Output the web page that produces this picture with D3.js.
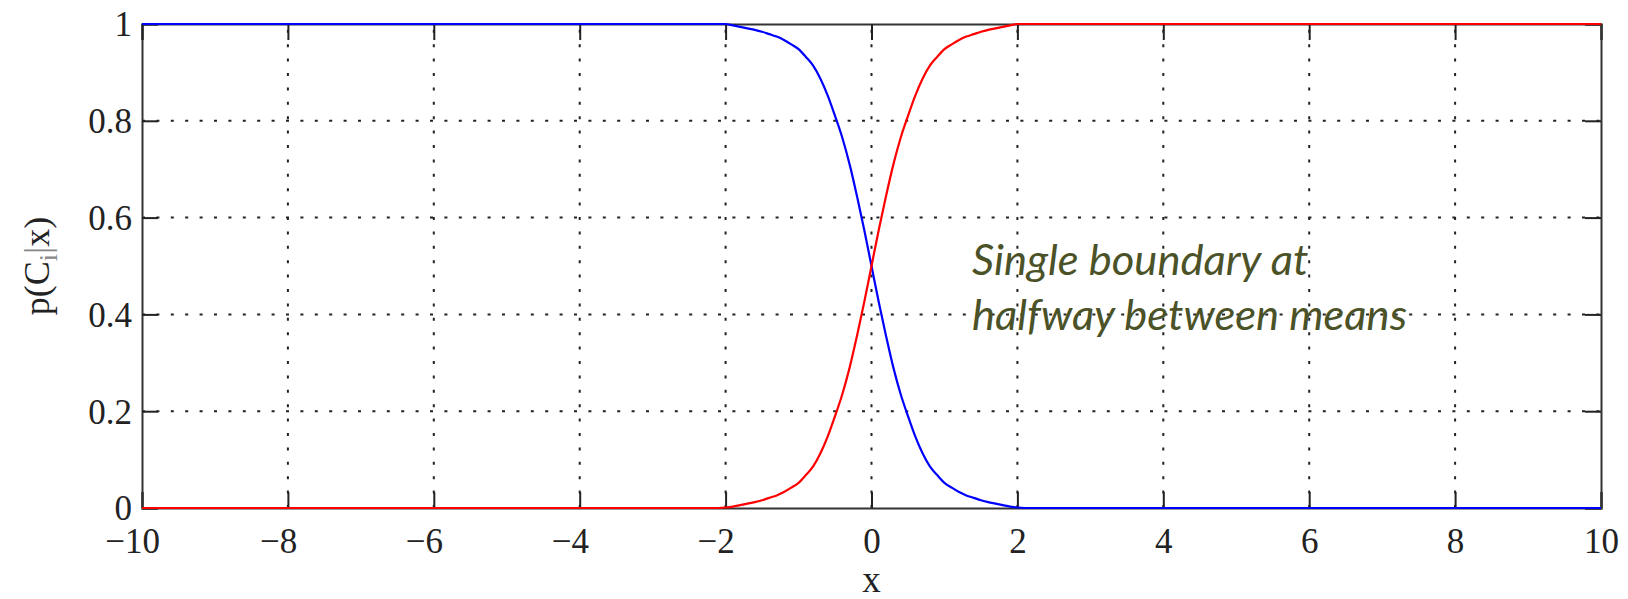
<!DOCTYPE html>
<html>
<head>
<meta charset="utf-8">
<script src="https://d3js.org/d3.v7.min.js"></script>
<style>
  body { margin: 0; background: #fff; }
  svg { display: block; }
</style>
</head>
<body>
<svg id="chart" width="1628" height="599"></svg>
<script>
// values
var xTicks = [-10, -8, -6, -4, -2, 0, 2, 4, 6, 8, 10];
var yTicks = [0, 0.2, 0.4, 0.6, 0.8, 1];

// sample positions of the curves
var xs = [-10, -2.1, -2.0, -1.9, -1.8, -1.7, -1.6, -1.5, -1.4, -1.3, -1.2, -1.1, -1.0, -0.9, -0.8, -0.7, -0.6, -0.5, -0.4, -0.3, -0.2, -0.1,
          0, 0.1, 0.2, 0.3, 0.4, 0.5, 0.6, 0.7, 0.8, 0.9, 1.0, 1.1, 1.2, 1.3, 1.4, 1.5, 1.6, 1.7, 1.8, 1.9, 2.0, 2.1, 10];
// p(C2|x) - rising (red)
var redY = [0, 0, 0.001, 0.003, 0.006, 0.009, 0.012, 0.016, 0.021, 0.026, 0.033, 0.042, 0.052, 0.068, 0.086, 0.113, 0.148, 0.19, 0.235, 0.29, 0.355, 0.425,
            0.5, 0.575, 0.645, 0.71, 0.765, 0.81, 0.852, 0.887, 0.914, 0.932, 0.948, 0.958, 0.967, 0.974, 0.979, 0.984, 0.988, 0.991, 0.994, 0.997, 1, 1, 1];
// p(C1|x) - falling (blue)
var blueY = [1, 1, 1, 0.997, 0.994, 0.991, 0.988, 0.984, 0.979, 0.974, 0.967, 0.958, 0.948, 0.932, 0.914, 0.887, 0.852, 0.81, 0.765, 0.71, 0.645, 0.575,
             0.5, 0.425, 0.355, 0.29, 0.235, 0.19, 0.148, 0.113, 0.086, 0.068, 0.052, 0.042, 0.033, 0.026, 0.021, 0.016, 0.012, 0.009, 0.006, 0.003, 0.001, 0, 0];

var note = ["Single boundary at", "halfway between means"];

var svg = d3.select("#chart");
var padL = 142, padR = 1601, padT = 24, padB = 508;

var x = d3.scaleLinear().domain([-10, 10]).range([padL, padR]);
var y = d3.scaleLinear().domain([0, 1]).range([padB, padT]);

// grid (dotted)
var grid = svg.append("g").attr("stroke", "#222").attr("stroke-width", 2)
  .attr("stroke-dasharray", "3,11.4");
grid.selectAll("line.v").data(xTicks.slice(1, -1)).enter().append("line")
  .attr("x1", function(d) { return x(d); }).attr("x2", function(d) { return x(d); })
  .attr("y1", padB).attr("y2", padT);
grid.selectAll("line.h").data(yTicks.slice(1, -1)).enter().append("line")
  .attr("x1", padL).attr("x2", padR)
  .attr("y1", function(d) { return y(d); }).attr("y2", function(d) { return y(d); });

// axes
var font = "'Liberation Serif', 'Times New Roman', serif";
var xAxis = svg.append("g").attr("transform", "translate(0," + padB + ")")
  .call(d3.axisBottom(x).tickValues(xTicks).tickSize(-16).tickFormat(""));
var yAxis = svg.append("g").attr("transform", "translate(" + padL + ",0)")
  .call(d3.axisLeft(y).tickValues(yTicks).tickSize(-16).tickPadding(10).tickFormat(d3.format("")));
svg.append("g").attr("transform", "translate(0," + padT + ")")
  .call(d3.axisTop(x).tickValues(xTicks).tickSize(-16).tickFormat(""));
svg.append("g").attr("transform", "translate(" + padR + ",0)")
  .call(d3.axisRight(y).tickValues(yTicks).tickSize(-16).tickFormat(""));

svg.selectAll(".domain").attr("stroke", "#333").attr("stroke-width", 2);
svg.selectAll(".tick line").attr("stroke", "#222").attr("stroke-width", 2);

yAxis.selectAll("text").attr("font-family", font).attr("font-size", 35)
  .attr("fill", "#222").attr("x", -10).attr("dy", "0.34em");

// x tick labels: digits centred on the tick, minus sign hangs to the left
xAxis.selectAll(".tick text").remove();
xAxis.selectAll(".tick").each(function(d) {
  var g = d3.select(this);
  var t = g.append("text").attr("y", 45).attr("text-anchor", "middle")
    .attr("font-family", font).attr("font-size", 35).attr("fill", "#222")
    .text(Math.abs(d));
  if (d < 0) {
    var w = t.node().getComputedTextLength();
    g.append("text").attr("x", -w / 2).attr("y", 45).attr("text-anchor", "end")
      .attr("font-family", font).attr("font-size", 35).attr("fill", "#222")
      .text("\u2212");
  }
});

// curves
var line = d3.line()
  .x(function(d) { return x(d[0]); })
  .y(function(d) { return y(d[1]); })
  .curve(d3.curveMonotoneX);

svg.append("path").datum(d3.zip(xs, blueY))
  .attr("d", line).attr("fill", "none").attr("stroke", "#0000ff").attr("stroke-width", 2.2);
svg.append("path").datum(d3.zip(xs, redY))
  .attr("d", line).attr("fill", "none").attr("stroke", "#ff0000").attr("stroke-width", 2.2);

// axis labels
svg.append("text").attr("x", x(0)).attr("y", 592).attr("text-anchor", "middle")
  .attr("font-family", font).attr("font-size", 37).attr("fill", "#222").text("x");

var yl = svg.append("text")
  .attr("transform", "translate(49," + ((padT + padB) / 2) + ") rotate(-90)")
  .attr("text-anchor", "middle")
  .attr("font-family", font).attr("font-size", 36).attr("fill", "#222");
yl.append("tspan").text("p(C");
yl.append("tspan").attr("dy", 8).attr("font-size", 26).attr("fill", "#888").text("i");
yl.append("tspan").attr("dy", -8).attr("fill", "#888").text("|");
yl.append("tspan").text("x)");

// annotation
svg.append("g").selectAll("text").data(note).enter().append("text")
  .attr("x", 972).attr("y", function(d, i) { return 275 + i * 55; })
  .attr("font-family", "Lato, 'Open Sans', sans-serif").attr("font-style", "italic")
  .attr("font-size", 43.5).attr("fill", "#4b5228")
  .text(function(d) { return d; });
</script>
</body>
</html>
